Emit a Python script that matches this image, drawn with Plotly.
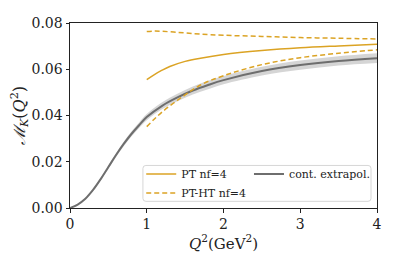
import plotly.graph_objects as go

# ---- data ----
q_cont = [0, 0.1, 0.2, 0.3, 0.4, 0.5, 0.6, 0.7, 0.8, 0.9, 1.0, 1.2, 1.4, 1.6, 1.8, 2.0, 2.5, 3.0, 3.5, 4.0]
m_cont = [0, 0.0015, 0.0040, 0.0078, 0.0125, 0.0177, 0.0229, 0.0277, 0.0320, 0.0358, 0.0393, 0.0442, 0.0478,
          0.0508, 0.0532, 0.0553, 0.0592, 0.0618, 0.0636, 0.0648]
m_cont_err = [0, 0.0001, 0.0002, 0.0004, 0.0005, 0.0007, 0.0008, 0.0010, 0.0011, 0.0012, 0.0013, 0.0015,
              0.0016, 0.0017, 0.0018, 0.0018, 0.0019, 0.0020, 0.0020, 0.0021]

q_pt = [1.0, 1.1, 1.2, 1.3, 1.5, 1.7, 2.0, 2.5, 3.0, 3.5, 4.0]
m_pt = [0.0555, 0.0577, 0.0596, 0.0612, 0.0634, 0.0648, 0.0664, 0.0681, 0.0693, 0.0701, 0.0708]

q_ht = [1.0, 1.1, 1.2, 1.35, 1.5, 1.7, 2.0, 2.5, 3.0, 3.5, 4.0]
m_ht_upper = [0.0763, 0.0765, 0.0764, 0.0761, 0.0757, 0.0752, 0.0747, 0.0742, 0.0737, 0.0734, 0.0731]
m_ht_lower = [0.0352, 0.0385, 0.0415, 0.0454, 0.0489, 0.0532, 0.0572, 0.0620, 0.0650, 0.0669, 0.0684]

x_ticks = [0, 1, 2, 3, 4]
y_ticks = [0.00, 0.02, 0.04, 0.06, 0.08]

ORANGE = "#DBA324"
GRAY = "#6E6E6E"
FONT = "DejaVu Serif"

band_up = [m + e for m, e in zip(m_cont, m_cont_err)]
band_lo = [m - e for m, e in zip(m_cont, m_cont_err)]

fig = go.Figure()
fig.add_trace(go.Scatter(x=q_cont, y=band_up, mode="lines", line=dict(width=0, shape="spline"),
                         showlegend=False, hoverinfo="skip"))
fig.add_trace(go.Scatter(x=q_cont, y=band_lo, mode="lines", line=dict(width=0, shape="spline"),
                         fill="tonexty", fillcolor="rgba(150,150,150,0.4)", showlegend=False, hoverinfo="skip"))
fig.add_trace(go.Scatter(x=q_cont, y=m_cont, mode="lines", name="cont. extrapol.",
                         line=dict(color=GRAY, width=2, shape="spline"), legend="legend2"))
fig.add_trace(go.Scatter(x=q_pt, y=m_pt, mode="lines", name="PT nf=4",
                         line=dict(color=ORANGE, width=1.5, shape="spline"), legend="legend"))
fig.add_trace(go.Scatter(x=q_ht, y=m_ht_upper, mode="lines", name="PT-HT nf=4",
                         line=dict(color=ORANGE, width=1.5, dash="5px,3px", shape="spline"), legend="legend"))
fig.add_trace(go.Scatter(x=q_ht, y=m_ht_lower, mode="lines", name="PT-HT nf=4", showlegend=False,
                         line=dict(color=ORANGE, width=1.5, dash="5px,3px", shape="spline"), legend="legend"))

axis_common = dict(showline=True, linecolor="#222", linewidth=1, mirror=True, ticks="outside",
                   ticklen=3.5, tickwidth=0.8, tickcolor="#222", showgrid=False, zeroline=False,
                   automargin=False, tickfont=dict(family=FONT, size=14, color="#222"))

# rounded legend frame (paper coordinates)
x0, x1, y0, y1 = 0.2375, 0.9805, 0.036, 0.230
rx, ry = 3 / 307.3, 3 / 185
frame = (f"M{x0+rx},{y0} L{x1-rx},{y0} Q{x1},{y0} {x1},{y0+ry} L{x1},{y1-ry} Q{x1},{y1} {x1-rx},{y1} "
         f"L{x0+rx},{y1} Q{x0},{y1} {x0},{y1-ry} L{x0},{y0+ry} Q{x0},{y0} {x0+rx},{y0} Z")

fig.update_layout(
    width=391, height=258,
    margin=dict(l=62, r=22, t=15, b=58),
    plot_bgcolor="white", paper_bgcolor="white",
    font=dict(family=FONT, color="#222"),
    xaxis=dict(range=[0, 4], tickvals=x_ticks, ticktext=[str(v) for v in x_ticks],
               title=dict(text="<i>Q</i><sup>2</sup>(GeV<sup>2</sup>)", font=dict(family=FONT, size=15), standoff=2),
               **axis_common),
    yaxis=dict(range=[0, 0.08], tickvals=y_ticks, ticktext=[f"{v:.2f}" for v in y_ticks],
               title=dict(text="<i>ℳ</i><sub><i>K</i></sub>(<i>Q</i><sup>2</sup>)", font=dict(family=FONT, size=16), standoff=6),
               **axis_common),
    legend=dict(x=0.232, y=0.262, xanchor="left", yanchor="top", bgcolor="rgba(0,0,0,0)",
                font=dict(family=FONT, size=11), tracegroupgap=0, itemwidth=30, traceorder="normal"),
    legend2=dict(x=0.583, y=0.262, xanchor="left", yanchor="top", bgcolor="rgba(0,0,0,0)",
                 font=dict(family=FONT, size=11), itemwidth=30, traceorder="normal"),
    shapes=[dict(type="path", xref="paper", yref="paper", path=frame,
                 line=dict(color="#d6d6d6", width=1), fillcolor="rgba(255,255,255,0.8)", layer="above")],
)

fig.write_html("out.html")
